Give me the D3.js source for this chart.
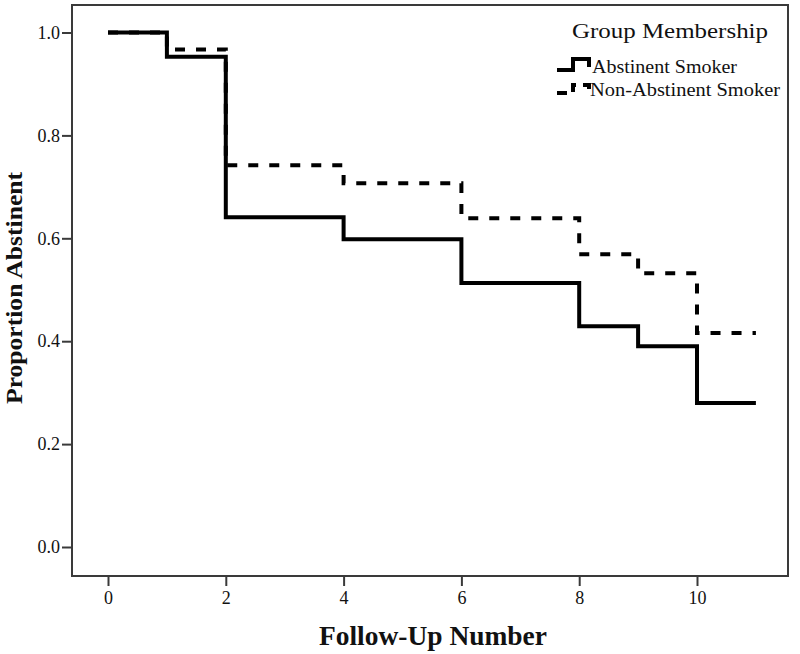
<!DOCTYPE html>
<html>
<head>
<meta charset="utf-8">
<script src="https://cdn.jsdelivr.net/npm/d3@7"></script>
<style>
  body { margin: 0; background: #fff; }
  text { font-family: "Liberation Serif", "Times New Roman", serif; fill: #111; }
</style>
</head>
<body>
<div id="chart"></div>
<script>
// follow-up numbers where the survival estimate changes (last one is the end of follow-up)
const followUps = [0, 1, 2, 4, 6, 8, 9, 10, 11];
// proportion abstinent per group
const abstinentSmoker = [1.0, 0.953, 0.641, 0.598, 0.513, 0.429, 0.390, 0.280, 0.280];
const nonAbstinentSmoker = [1.0, 0.967, 0.742, 0.707, 0.639, 0.569, 0.532, 0.416, 0.416];
const groupNames = ["Abstinent Smoker", "Non-Abstinent Smoker"];
const xTicks = [0, 2, 4, 6, 8, 10];
const yTicks = [0.0, 0.2, 0.4, 0.6, 0.8, 1.0];

const width = 800;
const height = 654;
const frame = { left: 72, right: 788, top: 5, bottom: 576 };

const svg = d3.select("#chart")
    .append("svg")
    .attr("width", width)
    .attr("height", height);

// scales are set so 0..10 and 0..1 land where the reference ticks are
const x = d3.scaleLinear()
    .domain([0, 10])
    .range([108, 697]);

const y = d3.scaleLinear()
    .domain([0, 1])
    .range([547, 32.5]);

// plot frame
svg.append("rect")
    .attr("x", frame.left)
    .attr("y", frame.top)
    .attr("width", frame.right - frame.left)
    .attr("height", frame.bottom - frame.top)
    .attr("fill", "none")
    .attr("stroke", "#3a3a3a")
    .attr("stroke-width", 2);

// axes
const xAxis = svg.append("g")
    .attr("transform", "translate(0," + frame.bottom + ")")
    .call(d3.axisBottom(x).tickValues(xTicks).tickFormat(d3.format("d")).tickSize(10).tickPadding(5));

const yAxis = svg.append("g")
    .attr("transform", "translate(" + frame.left + ",0)")
    .call(d3.axisLeft(y).tickValues(yTicks).tickFormat(d3.format(".1f")).tickSize(10).tickPadding(2));

[xAxis, yAxis].forEach(function (g) {
    g.select(".domain").remove();
    g.selectAll(".tick line").attr("stroke", "#3a3a3a").attr("stroke-width", 2);
    g.selectAll(".tick text")
        .style("font-family", "'Liberation Serif', serif")
        .style("font-size", "18px")
        .attr("fill", "#222");
});

// survival step lines
const line = d3.line()
    .x(function (d) { return x(d[0]); })
    .y(function (d) { return y(d[1]); })
    .curve(d3.curveStepAfter);

svg.append("path")
    .datum(d3.zip(followUps, nonAbstinentSmoker))
    .attr("d", line)
    .attr("fill", "none")
    .attr("stroke", "#000")
    .attr("stroke-width", 4)
    .attr("stroke-dasharray", "10,11");

svg.append("path")
    .datum(d3.zip(followUps, abstinentSmoker))
    .attr("d", line)
    .attr("fill", "none")
    .attr("stroke", "#000")
    .attr("stroke-width", 4);

// axis titles
svg.append("text")
    .attr("x", 433)
    .attr("y", 645)
    .attr("text-anchor", "middle")
    .attr("textLength", 228)
    .attr("lengthAdjust", "spacingAndGlyphs")
    .style("font-size", "27px")
    .style("font-weight", "bold")
    .text("Follow-Up Number");

svg.append("text")
    .attr("transform", "translate(22,288) rotate(-90)")
    .attr("text-anchor", "middle")
    .attr("textLength", 232)
    .attr("lengthAdjust", "spacingAndGlyphs")
    .style("font-size", "24px")
    .style("font-weight", "bold")
    .text("Proportion Abstinent");

// legend
const legend = svg.append("g")
    .attr("transform", "translate(557,0)");

legend.append("text")
    .attr("x", 15)
    .attr("y", 38)
    .attr("textLength", 196)
    .attr("lengthAdjust", "spacingAndGlyphs")
    .style("font-size", "22px")
    .text("Group Membership");

legend.append("path")
    .attr("d", "M0,70 H16 V59 H32 V67")
    .attr("fill", "none")
    .attr("stroke", "#000")
    .attr("stroke-width", 4);

legend.append("path")
    .attr("d", "M0,93 H16 V85 H32 V92")
    .attr("fill", "none")
    .attr("stroke", "#000")
    .attr("stroke-width", 4)
    .attr("stroke-dasharray", "10,7");

legend.selectAll(".legend-label")
    .data(groupNames)
    .enter()
    .append("text")
    .attr("class", "legend-label")
    .attr("x", function (d, i) { return i === 0 ? 35 : 33; })
    .attr("y", function (d, i) { return 73 + i * 23; })
    .attr("textLength", function (d, i) { return i === 0 ? 145 : 190; })
    .attr("lengthAdjust", "spacingAndGlyphs")
    .style("font-size", "19px")
    .text(function (d) { return d; });
</script>
</body>
</html>
